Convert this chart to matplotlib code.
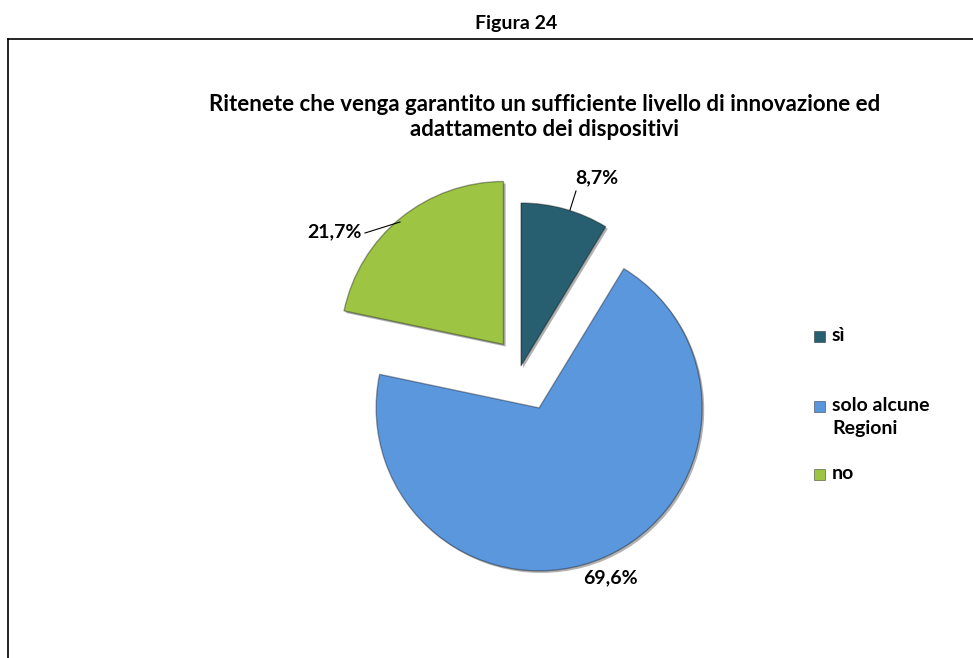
import matplotlib.pyplot as plt
import matplotlib.patheffects as pe
from matplotlib.lines import Line2D
from matplotlib.patches import Rectangle

# Survey answers, share of respondents (%)
categories = ["sì", "solo alcune\nRegioni", "no"]
shares = [8.7, 69.6, 21.7]
colors = ["#285F70", "#5B97DD", "#9DC443"]
explode = [0.0, 0.28, 0.17]

TITLE = ("Ritenete che venga garantito un sufficiente livello di innovazione ed\n"
         "adattamento dei dispositivi")
FONT = "Lato"

W, H = 973, 658
R_PX = 163.0            # pie radius in pixels
CX, CY = 521.0, 366.0   # pie centre, pixels from top-left

fig = plt.figure(figsize=(W / 100, H / 100), dpi=100)
ax = fig.add_axes([0, 0, 1, 1])

wedges, _ = ax.pie(
    shares,
    colors=colors,
    explode=explode,
    startangle=90,
    counterclock=False,
    radius=1.0,
    center=(0, 0),
    wedgeprops=dict(linewidth=1.0),
)
for w in wedges:
    w.set_edgecolor((0, 0, 0, 0.35))
    w.set_path_effects([
        pe.SimplePatchShadow(offset=(1.5, -1.5), shadow_rgbFace="#000000", alpha=0.3),
        pe.Normal(),
    ])

# pie() resets the limits: one data unit == pie radius, origin at the pie centre
ax.set_xlim(-CX / R_PX, (W - CX) / R_PX)
ax.set_ylim(-(H - CY) / R_PX, CY / R_PX)
ax.set_aspect("equal")
ax.axis("off")


def px(x, y):
    """Pixel position (from top-left) to figure fraction."""
    return x / W, 1 - y / H


def pct(v):
    return f"{v:.1f}%".replace(".", ",")


label_kw = dict(fontsize=14, fontweight="bold", family=FONT, ha="center", va="center")
fig.text(*px(597, 178), pct(shares[0]), **label_kw)
fig.text(*px(610, 578), pct(shares[1]), **label_kw)
fig.text(*px(334, 232), pct(shares[2]), **label_kw)

# leader lines for the two small slices
fig.add_artist(Line2D([570 / W, 576 / W], [1 - 210 / H, 1 - 191 / H],
                      color="black", lw=0.8))
fig.add_artist(Line2D([365 / W, 400 / W], [1 - 233 / H, 1 - 222 / H],
                      color="black", lw=0.8))

fig.text(*px(545, 117), TITLE, fontsize=16, fontweight="bold", family=FONT,
         ha="center", va="center", linespacing=1.25)
fig.text(*px(516, 24), "Figura 24", fontsize=14, fontweight="bold", family=FONT,
         ha="center", va="center")

# legend: swatch plus label, first text line level with the swatch
legend_y = [337, 407, 475]
for cat, c, y in zip(categories, colors, legend_y):
    fig.add_artist(Rectangle(px(814, y + 5), 11 / W, 11 / H, transform=fig.transFigure,
                             facecolor=c, edgecolor=(0, 0, 0, 0.45), lw=0.6))
    fig.text(*px(832, y - 10), cat, fontsize=14, fontweight="bold", family=FONT,
             ha="left", va="top", multialignment="left", linespacing=1.4)

# frame around the chart area
fig.add_artist(Line2D([8 / W, 1.0], [1 - 39 / H, 1 - 39 / H], color="black", lw=1.2))
fig.add_artist(Line2D([8 / W, 8 / W], [1 - 39 / H, 0.0], color="black", lw=1.2))

fig.savefig("out.png", dpi=100)
